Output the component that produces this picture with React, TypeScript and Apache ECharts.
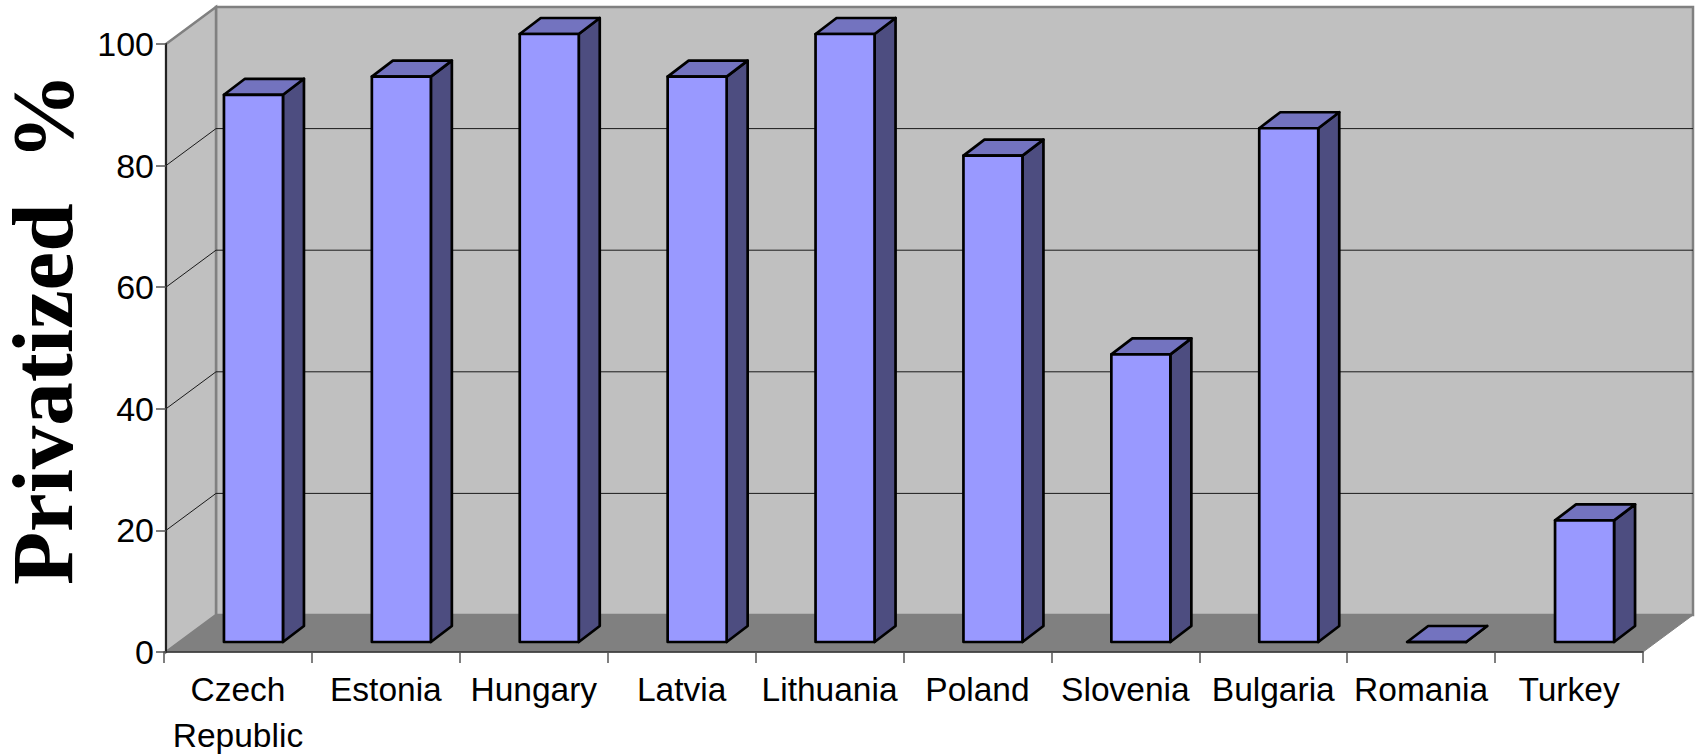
import React, { useEffect, useRef } from "react";
import * as echarts from "echarts";

const categories = ["Czech\nRepublic", "Estonia", "Hungary", "Latvia", "Lithuania", "Poland", "Slovenia", "Bulgaria", "Romania", "Turkey"];
const privatized = [90, 93, 100, 93, 100, 80, 47.3, 84.5, 0, 20];
const gridValues = [20, 40, 60, 80];
const yTitle = "Privatized  %";

const WALL_INSET = 2;
const DEPTH_X = 50;
const DEPTH_Y = 37;
const BAR_W = 59;
const BAR_DX = 21;
const BAR_DY = 16;
const BAR_SHIFT_X = 15.5;
const BAR_SHIFT_Y = -10;

export default function App() {
  const ref = useRef<HTMLDivElement>(null);
  useEffect(() => {
    const chart = echarts.init(ref.current!, undefined, { renderer: "svg" });
    const font = "Liberation Sans";
    chart.setOption({
      animation: false,
      backgroundColor: "#ffffff",
      grid: { left: 164, top: 44, width: 1479, height: 608, containLabel: false, outerBoundsMode: "none" },
      xAxis: {
        type: "category",
        data: categories,
        z: 5,
        axisLine: { lineStyle: { color: "#333333", width: 1.5 } },
        axisTick: { show: true, interval: 0, length: 11, lineStyle: { color: "#555555", width: 1.5 } },
        axisLabel: { interval: 0, color: "#000", fontFamily: font, fontSize: 33.5, lineHeight: 46, margin: 14 },
      },
      yAxis: {
        type: "value",
        min: 0,
        max: 100,
        interval: 20,
        z: 5,
        offset: -WALL_INSET,
        axisLine: { show: true, lineStyle: { color: "#222222", width: 2 } },
        axisTick: { show: true, length: 10, lineStyle: { color: "#555555", width: 1.5 } },
        splitLine: { show: false },
        axisLabel: { color: "#000", fontFamily: font, fontSize: 34, margin: 12 },
      },
      graphic: [
        {
          type: "text",
          x: 42,
          y: 329,
          rotation: Math.PI / 2,
          z: 10,
          style: {
            text: yTitle,
            font: "bold 87px 'Liberation Serif'",
            fill: "#000",
            align: "center",
            verticalAlign: "middle",
            lineHeight: 70,
          },
        },
      ],
      series: [
        {
          type: "custom",
          z: 1,
          silent: true,
          data: [[0, 0]],
          renderItem: (params: any) => {
            const c = params.coordSys;
            const l = c.x + WALL_INSET, t = c.y, r = c.x + c.width, b = c.y + c.height;
            const wall = { fill: "#c0c0c0", stroke: "#808080", lineWidth: 2.5 };
            return {
              type: "group",
              children: [
                { type: "polygon", shape: { points: [[l + DEPTH_X, t - DEPTH_Y], [r + DEPTH_X, t - DEPTH_Y], [r + DEPTH_X, b - DEPTH_Y], [l + DEPTH_X, b - DEPTH_Y]] }, style: wall },
                { type: "polygon", shape: { points: [[l, t], [l + DEPTH_X, t - DEPTH_Y], [l + DEPTH_X, b - DEPTH_Y], [l, b]] }, style: wall },
                { type: "polygon", shape: { points: [[l, b], [l + DEPTH_X, b - DEPTH_Y], [r + DEPTH_X, b - DEPTH_Y], [r, b]] }, style: { fill: "#808080", stroke: "#808080", lineWidth: 1 } },
              ],
            };
          },
        },
        {
          type: "custom",
          z: 2,
          silent: true,
          data: gridValues.map((v) => [0, v]),
          renderItem: (params: any, api: any) => {
            const c = params.coordSys;
            const y = api.coord([0, api.value(1)])[1];
            const l = c.x + WALL_INSET, r = c.x + c.width;
            return {
              type: "polyline",
              shape: { points: [[l, y], [l + DEPTH_X, y - DEPTH_Y], [r + DEPTH_X, y - DEPTH_Y]] },
              style: { fill: "none", stroke: "#1a1a1a", lineWidth: 1 },
            };
          },
        },
        {
          type: "custom",
          z: 6,
          data: privatized.map((v, i) => [i, v]),
          renderItem: (_: any, api: any) => {
            const [cx, yTop] = api.coord([api.value(0), api.value(1)]);
            const yBase = api.coord([api.value(0), 0])[1];
            const x0 = cx - BAR_W / 2 + BAR_SHIFT_X;
            const x1 = x0 + BAR_W;
            const top = yTop + BAR_SHIFT_Y;
            const bot = yBase + BAR_SHIFT_Y;
            const edge = { stroke: "#000", lineWidth: 2.7, lineJoin: "round" };
            return {
              type: "group",
              children: [
                { type: "polygon", shape: { points: [[x1, top], [x1 + BAR_DX, top - BAR_DY], [x1 + BAR_DX, bot - BAR_DY], [x1, bot]] }, style: { fill: "#4d4d80", ...edge } },
                { type: "polygon", shape: { points: [[x0, top], [x0 + BAR_DX, top - BAR_DY], [x1 + BAR_DX, top - BAR_DY], [x1, top]] }, style: { fill: "#7373bf", ...edge } },
                { type: "polygon", shape: { points: [[x0, top], [x1, top], [x1, bot], [x0, bot]] }, style: { fill: "#9999ff", ...edge } },
              ],
            };
          },
        },
      ],
    });
    return () => chart.dispose();
  }, []);
  return <div ref={ref} style={{ position: "fixed", left: 0, top: 0, width: 1696, height: 755 }} />;
}
